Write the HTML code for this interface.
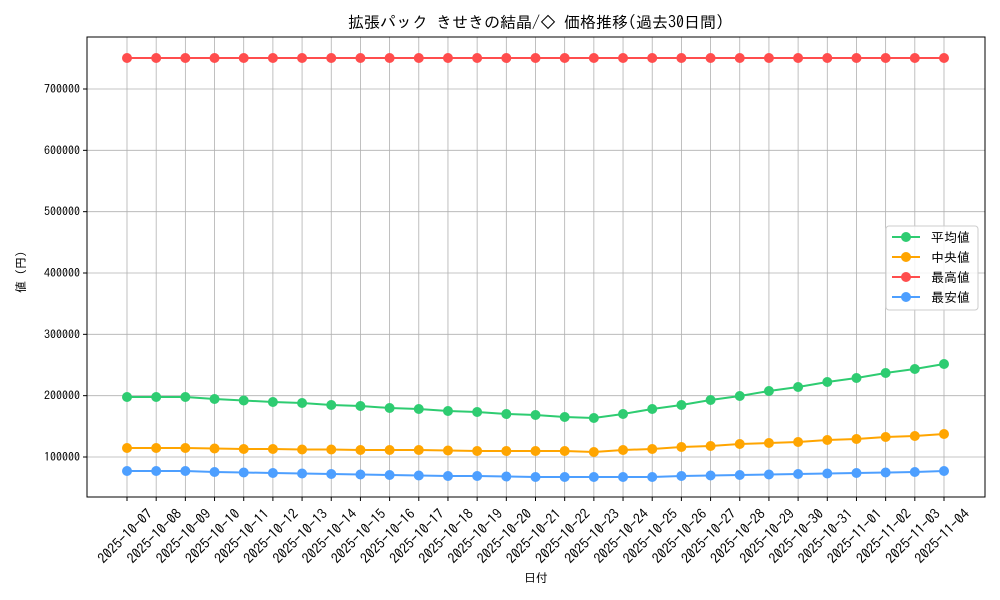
<!DOCTYPE html><html><head><meta charset="utf-8"><style>body{margin:0;background:#fff}svg{display:block}text{font-family:"IPAGothic","Noto Sans CJK JP",sans-serif;fill:#000}</style></head><body>
<svg id="s" width="1000" height="600" xmlns="http://www.w3.org/2000/svg"></svg>
<script>
const s=document.getElementById('s');let h='';
const L=87,R=985,T=37,B=497;
const X=i=>127+i*(944-127)/28;
const Y=v=>457-(v-100000)/600000*368;
for(let i=0;i<29;i++)h+=`<line x1="${X(i)}" x2="${X(i)}" y1="${T}" y2="${B}" stroke="#b0b0b0" stroke-width="0.8"/>`;
for(let v=100000;v<=700000;v+=100000){h+=`<line x1="${L}" x2="${R}" y1="${Y(v)}" y2="${Y(v)}" stroke="#b0b0b0" stroke-width="0.8"/><line x1="${L-4}" x2="${L}" y1="${Y(v)}" y2="${Y(v)}" stroke="#000"/><text x="${L-7}" y="${Y(v)+4}" font-size="12" text-anchor="end">${v}</text>`;}
const g=[397,397,397,399,400.5,402,403,405,406,408,409,411,412,414,415,417,418,414,409,405,400,396,391,387,382,378,373,369,364];
const o=[448,448,448,448.5,449,449,449.5,449.5,450,450,450,450.5,451,451,451,451,452,450,449,447,446,444,443,442,440,439,437,436,434];
const b=[471,471,471,472,472.5,473,473.5,474,474.5,475,475.5,476,476,476.5,477,477,477,477,477,476,475.5,475,474.5,474,473.5,473,472.5,472,471];
const r=Array(29).fill(58);
function ser(a,c){let p=a.map((y,i)=>X(i)+','+y).join(' ');h+=`<polyline points="${p}" fill="none" stroke="${c}" stroke-width="2"/>`;a.forEach((y,i)=>h+=`<circle cx="${X(i)}" cy="${y}" r="5" fill="${c}"/>`);}
ser(g,'#2ecc71');ser(o,'#ffa500');ser(r,'#ff4d4d');ser(b,'#4d9fff');
h+=`<rect x="${L}" y="${T}" width="${R-L}" height="${B-T}" fill="none" stroke="#000" stroke-width="1"/>`;
const d0=new Date(Date.UTC(2025,9,7));
for(let i=0;i<29;i++){const d=new Date(d0.getTime()+i*864e5);const t=d.toISOString().slice(0,10);
h+=`<line x1="${X(i)}" x2="${X(i)}" y1="${B}" y2="${B+4}" stroke="#000"/><text transform="translate(${X(i)-2},${B+39}) rotate(-45)" font-size="14" text-anchor="middle" dy="5">${t}</text>`;}
h+=`<text x="536" y="28" font-size="16" text-anchor="middle">拡張パック きせきの結晶/◇ 価格推移(過去30日間)</text>`;
h+=`<text x="536" y="582" font-size="12" text-anchor="middle">日付</text>`;
h+=`<text transform="translate(25,272) rotate(-90)" font-size="12" text-anchor="middle">値 (円)</text>`;
h+=`<rect x="886" y="226" width="92" height="84" rx="3" fill="#fff" fill-opacity="0.85" stroke="#ccc"/>`;
[['平均値','#2ecc71'],['中央値','#ffa500'],['最高値','#ff4d4d'],['最安値','#4d9fff']].forEach((e,i)=>{const y=237+i*20;
h+=`<line x1="892" x2="920" y1="${y}" y2="${y}" stroke="${e[1]}" stroke-width="2"/><circle cx="906" cy="${y}" r="5" fill="${e[1]}"/><text x="931" y="${y+5}" font-size="13">${e[0]}</text>`;});
s.innerHTML=h;
</script></body></html>
